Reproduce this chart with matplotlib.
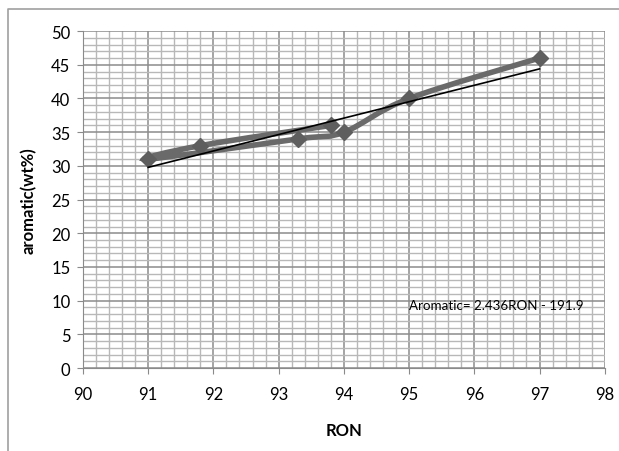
import numpy as np
import matplotlib.pyplot as plt
from matplotlib.path import Path
from matplotlib.patches import PathPatch
from matplotlib.lines import Line2D
from matplotlib.ticker import MultipleLocator

plt.rcParams['font.family'] = ['Lato', 'DejaVu Sans']

# data in the order the series is drawn
ron = [93.8, 91.8, 91.0, 93.3, 94.0, 95.0, 97.0]
aromatic = [36, 33, 31, 34, 35, 40, 46]
fit_coef = [2.436, -191.9]
fit_range = [91, 97]


def smooth_path(x, y, t=0.5):
    # Excel-style smoothed line through the points (cubic bezier segments)
    pts = np.column_stack([x, y])
    verts = [pts[0]]
    codes = [Path.MOVETO]
    n = len(pts)
    for i in range(n - 1):
        p0 = pts[i - 1] if i > 0 else pts[i]
        p1 = pts[i]
        p2 = pts[i + 1]
        p3 = pts[i + 2] if i + 2 < n else pts[i + 1]
        c1 = p1 + (p2 - p0) * t / 3
        c2 = p2 - (p3 - p1) * t / 3
        verts += [c1, c2, p2]
        codes += [Path.CURVE4] * 3
    return Path(verts, codes)


def main():
    fig = plt.figure(figsize=(6.19, 4.52), dpi=100)
    # chart-area border (only left and top edges visible)
    fig.lines.append(Line2D([8 / 619, 8 / 619, 1.0], [0.0, 1 - 10 / 452, 1 - 10 / 452],
                            transform=fig.transFigure, color="#a0a0a0", lw=1.2))
    ax = fig.add_axes([0.134, 0.1836, 0.843, 0.7454])

    ax.set_xlim(90, 98)
    ax.set_ylim(0, 50)
    ax.xaxis.set_major_locator(MultipleLocator(1))
    ax.xaxis.set_minor_locator(MultipleLocator(0.2))
    ax.yaxis.set_major_locator(MultipleLocator(5))
    ax.yaxis.set_minor_locator(MultipleLocator(1))
    ax.grid(which="major", color="#8c8c8c", lw=1.1)
    ax.grid(which="minor", color="#b8b8b8", lw=1.0)
    ax.set_axisbelow(True)
    for s in ["top", "right"]:
        ax.spines[s].set_visible(False)
    for s in ["left", "bottom"]:
        ax.spines[s].set_color("#8a8a8a")
    ax.tick_params(which="major", length=4, color="#8a8a8a", labelsize=12,
                   pad=5)
    ax.tick_params(axis="x", pad=9)
    ax.tick_params(which="minor", length=0)

    ax.add_patch(PathPatch(smooth_path(ron, aromatic), fill=False,
                           edgecolor="#6a6a6a", lw=4, zorder=3))
    ax.plot(ron, aromatic, ls="none", marker="D", ms=8, color="#5e5e5e",
            zorder=4)

    xs = np.array(fit_range)
    ax.plot(xs, np.polyval(fit_coef, xs), color="black", lw=1.2, zorder=5)

    ax.text(95.0, 9.3, "Aromatic= 2.436RON - 191.9", fontsize=9.6,
            va="center", ha="left")

    ax.set_xlabel("RON", fontsize=12, fontweight="bold", labelpad=14)
    ax.set_ylabel("aromatic(wt%)", fontsize=12, fontweight="bold", labelpad=10)

    plt.savefig("out.png", dpi=100)


if __name__ == '__main__':
    main()
